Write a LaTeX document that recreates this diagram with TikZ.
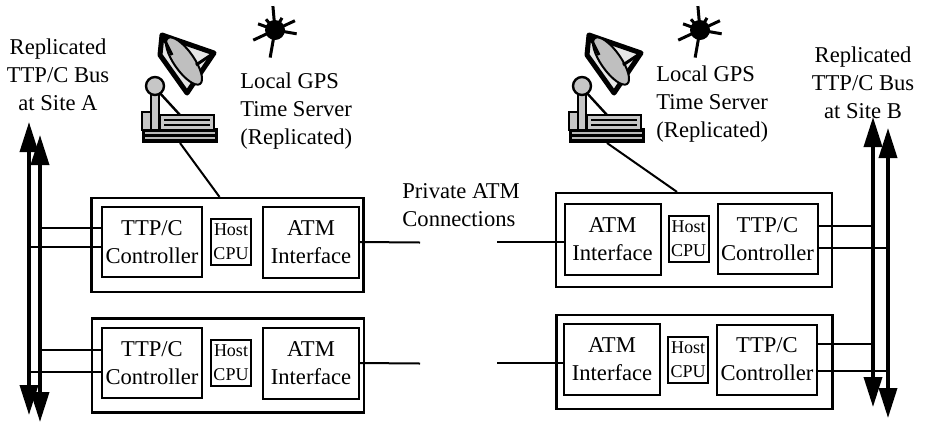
\documentclass[tikz,border=0pt]{standalone}
\usepackage{fontspec}
\setmainfont{Liberation Serif}
\usetikzlibrary{arrows.meta, positioning}

\tikzset{
  unit/.style={draw, line width=1pt, minimum width=50pt, minimum height=35pt, align=center, inner sep=0pt},
  atm/.style={unit, minimum width=48pt, minimum height=35.5pt},
  host/.style={draw, line width=1pt, minimum width=20pt, minimum height=23pt, align=center, inner sep=0pt,
    font=\fontsize{9}{12}\selectfont},
  site/.style={draw, line width=1.1pt, minimum width=136pt, minimum height=47pt},
  bus/.style={line width=1.8pt, {Triangle[length=15pt,width=9pt]}-{Triangle[length=15pt,width=9pt]}},
  wire/.style={line width=1pt},
  caption/.style={inner sep=0pt, align=center},
  % ground station: base, mast and reflector
  dish/.pic={
    \fill (2,95) rectangle (78,110);
    \draw[gray!55, line width=0.7pt] (5,100) -- (75,100) (5,105) -- (75,105);
    \filldraw[fill=gray!45, line width=1pt] (20,82) rectangle (74,97);
    \draw[line width=0.7pt] (24,87) -- (70,87) (24,92) -- (70,92);
    \filldraw[fill=gray!45, line width=1pt] (2,79) rectangle (16,97);
    \filldraw[fill=gray!20, line width=2.5pt, line join=round] (22,2) -- (74,20) -- (47,60) -- (20,22) -- cycle;
    \filldraw[fill=gray!50, line width=1pt, rotate around={-55:(44,28)}] (44,28) ellipse[x radius=14pt, y radius=5pt];
    \draw[line width=1.5pt] (22,2) -- (32,22) (74,20) -- (56,32);
    \draw[line width=1.2pt] (18,58) -- (40,82);
    \filldraw[fill=gray!45, line width=1pt] (11,59) rectangle (19,97);
    \filldraw[fill=gray!45, line width=1.2pt] (15,53) circle[radius=4.5pt];
    \coordinate (-foot) at (40,110);
  },
  % satellite
  sat/.pic={
    \fill (0,0) circle[radius=5pt];
    \foreach \a/\r in {95/12, -100/14, -155/12, 160/9, 25/11, -10/11, 60/7, 130/7}
      \draw[line width=1.5pt] (0,0) -- (\a:\r pt);
  }
}

\begin{document}
\begin{tikzpicture}[x=0.5pt, y=-0.5pt, font=\fontsize{11.3}{14}\selectfont]
  \useasboundingbox (0,0) rectangle (931,424);

  % site A
  \node[site] (siteA1) at (227.5,245) {};
  \node[unit] (ttpA1) at (152,242) {TTP/C\\Controller};
  \node[host] (hostA1) [right=3.5pt of ttpA1] {Host\\CPU};
  \node[atm] (atmA1) [right=5pt of hostA1] {ATM\\Interface};

  \node[site] (siteA2) at (228,365.5) {};
  \node[unit] (ttpA2) at (152,363) {TTP/C\\Controller};
  \node[host] (hostA2) [right=3.5pt of ttpA2] {Host\\CPU};
  \node[atm] (atmA2) [right=5pt of hostA2] {ATM\\Interface};

  % site B
  \node[site, minimum width=138pt] (siteB1) at (694,240) {};
  \node[atm] (atmB1) at (612.5,239) {ATM\\Interface};
  \node[host] (hostB1) [right=3pt of atmB1] {Host\\CPU};
  \node[unit] (ttpB1) [right=3.5pt of hostB1] {TTP/C\\Controller};

  \node[site, minimum width=138pt] (siteB2) at (694.5,362) {};
  \node[atm] (atmB2) at (612,359.5) {ATM\\Interface};
  \node[host] (hostB2) [right=3pt of atmB2] {Host\\CPU};
  \node[unit] (ttpB2) [right=3.5pt of hostB2] {TTP/C\\Controller};

  % labels
  \node[caption] (busAtext) at (58,75) {Replicated\\TTP/C Bus\\at Site A};
  \node[caption] (busBtext) at (863,83) {Replicated\\TTP/C Bus\\at Site B};
  \node[caption, align=left, anchor=west] (gpsAtext) at (240,111) {Local GPS\\Time Server\\(Replicated)};
  \node[caption, align=left, anchor=west] (gpsBtext) at (656,104) {Local GPS\\Time Server\\(Replicated)};
  \node[caption, align=left, anchor=west] (linktext) at (402,205) {Private ATM\\Connections};

  % time servers
  \pic (dishA) at (140,33) {dish};
  \pic (dishB) at (567,33) {dish};
  \pic (satA) at (275,30) {sat};
  \pic (satB) at (700,30) {sat};
  \draw[wire] (dishA-foot) -- ([xshift=-4pt]siteA1.north);
  \draw[wire] (dishB-foot) -- ([xshift=-8.5pt]siteB1.north);

  % replicated buses
  \coordinate (busA1top) at (29,122);  \coordinate (busA1bot) at (29,415);
  \coordinate (busA2top) at (40,135);  \coordinate (busA2bot) at (40,422);
  \coordinate (busB1top) at (873,117); \coordinate (busB1bot) at (873,407);
  \coordinate (busB2top) at (888,128); \coordinate (busB2bot) at (888,418);
  \draw[bus] (busA1top) -- (busA1bot);
  \draw[bus] (busA2top) -- (busA2bot);
  \draw[bus] (busB1top) -- (busB1bot);
  \draw[bus] (busB2top) -- (busB2bot);

  % bus taps
  \draw[wire] ([yshift=7pt]ttpA1.west) -- ([yshift=7pt]ttpA1.west -| busA2top);
  \draw[wire] ([yshift=-2.5pt]ttpA1.west) -- ([yshift=-2.5pt]ttpA1.west -| busA1top);
  \draw[wire] ([yshift=6.5pt]ttpA2.west) -- ([yshift=6.5pt]ttpA2.west -| busA2top);
  \draw[wire] ([yshift=-4.5pt]ttpA2.west) -- ([yshift=-4.5pt]ttpA2.west -| busA1top);
  \draw[wire] ([yshift=6.5pt]ttpB1.east) -- ([yshift=6.5pt]ttpB1.east -| busB1top);
  \draw[wire] ([yshift=-4.5pt]ttpB1.east) -- ([yshift=-4.5pt]ttpB1.east -| busB2top);
  \draw[wire] ([yshift=8pt]ttpB2.east) -- ([yshift=8pt]ttpB2.east -| busB1top);
  \draw[wire] ([yshift=-5.5pt]ttpB2.east) -- ([yshift=-5.5pt]ttpB2.east -| busB2top);

  % ATM links
  \coordinate (linkA1) at (420,242.5);
  \coordinate (linkA2) at (420,363.5);
  \coordinate (linkB1) at (497,242);
  \coordinate (linkB2) at (497,363);
  \draw[wire] (atmA1.east) -- (linkA1);
  \draw[wire] (atmA2.east) -- (linkA2);
  \draw[wire] (linkB1) -- (atmB1.west |- linkB1);
  \draw[wire] (linkB2) -- (atmB2.west |- linkB2);
\end{tikzpicture}
\end{document}
